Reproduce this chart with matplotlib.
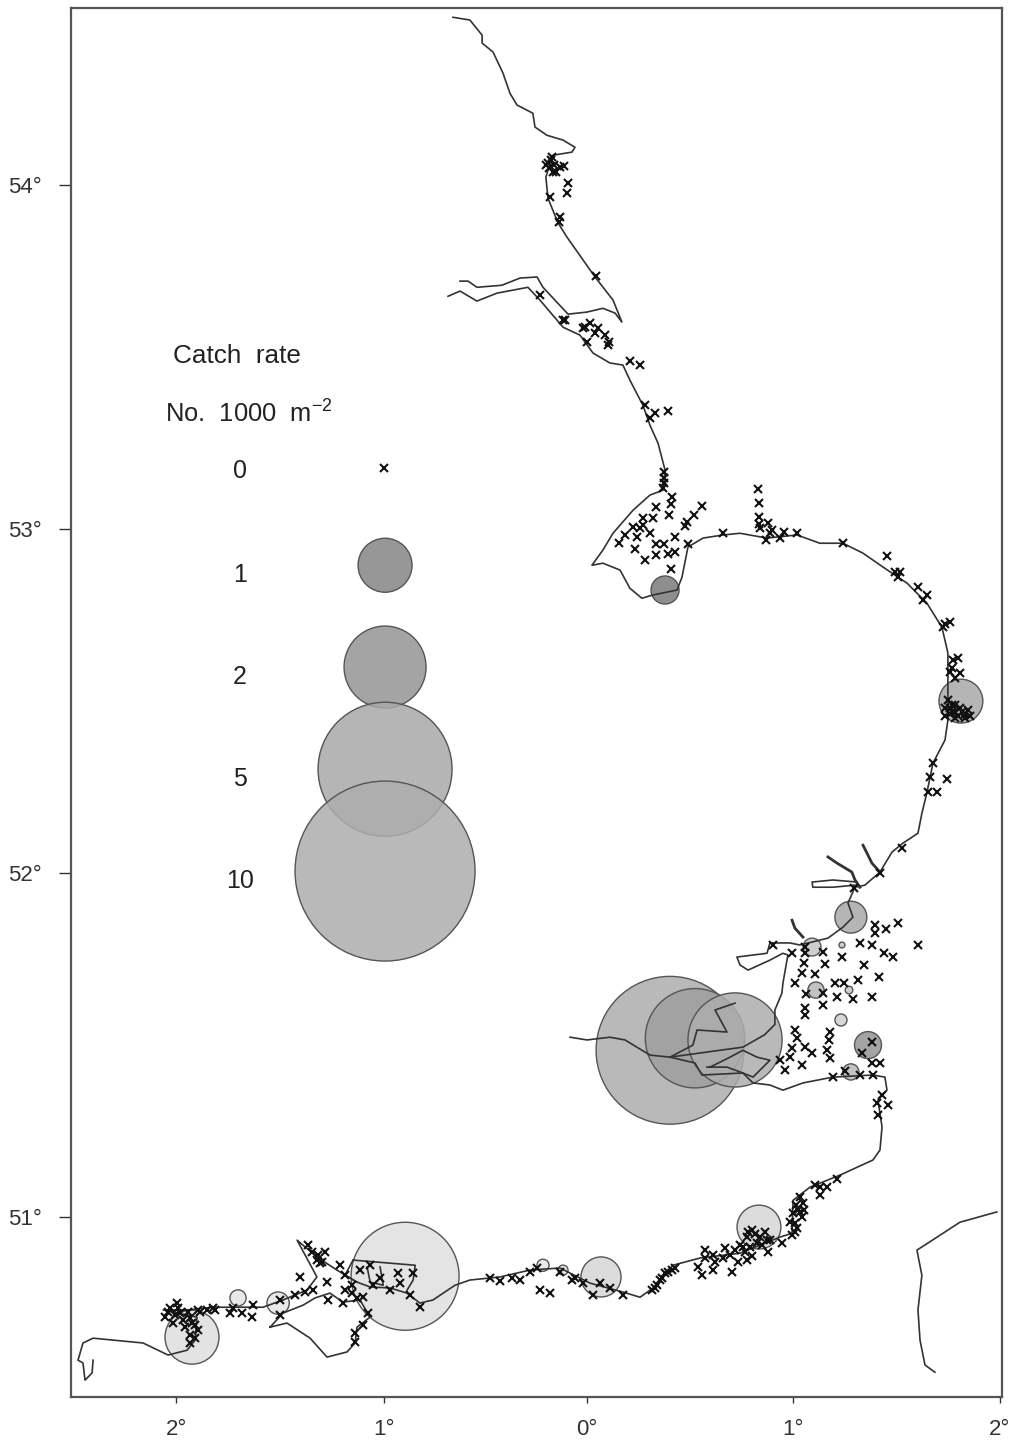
import numpy as np
import matplotlib
matplotlib.use('Agg')
import matplotlib.pyplot as plt

plt.rcParams['font.family'] = ['Liberation Sans', 'DejaVu Sans']
plt.rcParams['mathtext.default'] = 'regular'

# coast, (lon, lat) in degrees, west is negative
coast_north = [(-.649,54.488),(-.567,54.480),(-.508,54.436),(-.508,54.413),(-.455,54.387),(-.407,54.326),
    (-.373,54.267),(-.339,54.233),(-.262,54.209),(-.252,54.169),(-.194,54.145),(-.116,54.131),(-.058,54.110),
    (-.073,54.096),(-.165,54.087),(-.179,54.064),(-.199,54.023),(-.189,53.962),(-.140,53.890),(-.097,53.849),
    (.039,53.733),(.126,53.666),(.169,53.602),(.136,53.628),(.077,53.642),(0,53.631),(-.092,53.625),
    (-.213,53.703),(-.242,53.733),(-.324,53.730),(-.412,53.709),(-.533,53.703),(-.576,53.721),(-.615,53.721)]
coast_east = [(-.673,53.677),(-.615,53.692),(-.533,53.663),(-.436,53.686),(-.286,53.703),(-.228,53.666),
    (-.116,53.587),(-.034,53.564),(.029,53.512),(.111,53.483),(.174,53.477),(.208,53.433),(.271,53.360),
    (.305,53.302),(.344,53.250),(.378,53.172),(.368,53.113),(.305,53.099),(.223,53.055),(.126,52.988),
    (.077,52.939),(.024,52.895),(.077,52.901),(.160,52.881),(.208,52.828),(.266,52.799),(.315,52.808),
    (.436,52.823),(.460,52.860),(.489,52.948),(.562,52.974),(.659,52.983),(.741,52.988),(.872,52.974),
    (1.017,52.983),(1.128,52.959),(1.240,52.959),(1.337,52.930),(1.433,52.890),(1.550,52.843),(1.646,52.785),
    (1.719,52.715),(1.748,52.640),(1.748,52.561),(1.748,52.445),(1.734,52.387),(1.676,52.320),(1.646,52.233),
    (1.622,52.174),(1.603,52.116),(1.530,52.087),(1.477,52.061),(1.419,52.003),(1.346,51.965),(1.298,51.959),
    (1.264,51.913),(1.288,51.872),(1.240,51.843),(1.167,51.811),(1.031,51.791),(.983,51.797),(.886,51.797),
    (.872,51.767),(.726,51.756),(.741,51.733),(.780,51.718),(.886,51.747),(.949,51.767),(.973,51.762),
    (.949,51.680),(.944,51.651),(.910,51.602),(.910,51.560),(.860,51.530),(.755,51.494),(.644,51.485),(.402,51.465),
    (.305,51.471),(.184,51.515),(.111,51.523),(0,51.515),(-.082,51.523)]
coast_south = [(.402,51.465),(.523,51.448),(.557,51.413),(.755,51.419),(.804,51.390),(.886,51.384),(.949,51.369),
    (1.046,51.390),(1.191,51.407),(1.385,51.413),(1.443,51.407),(1.453,51.369),(1.409,51.340),(1.429,51.262),
    (1.419,51.195),(1.385,51.166),(1.225,51.122),(1.080,51.087),(.998,51.049),(.993,50.953),(.935,50.942),
    (.741,50.895),(.547,50.881),(.416,50.860),(.320,50.794),(.257,50.767),(.174,50.782),(.015,50.808),
    (-.131,50.852),(-.276,50.846),(-.421,50.826),(-.567,50.817),(-.639,50.802),(-.746,50.759),(-.809,50.750),
    (-.872,50.779),(-.954,50.794),(-1.051,50.797),(-1.114,50.811),(-1.211,50.846),(-1.308,50.884),(-1.404,50.933),
    (-1.308,50.826),(-1.356,50.788),(-1.472,50.759),(-1.569,50.738),(-1.695,50.738),(-1.811,50.738),(-1.937,50.730),
    (-2.053,50.730),(-1.889,50.709),(-1.898,50.642),(-1.937,50.613),(-2.029,50.599),(-2.150,50.634),(-2.392,50.648),
    (-2.441,50.634),(-2.465,50.584),(-2.441,50.576),(-2.431,50.526),(-2.397,50.547),(-2.392,50.584)]
isle_of_wight = [(-1.535,50.680),(-1.453,50.692),(-1.341,50.648),(-1.259,50.593),(-1.162,50.608),(-1.123,50.634),
    (-1.114,50.680),(-1.051,50.709),(-1.099,50.759),(-1.182,50.753),(-1.245,50.779),(-1.317,50.765),(-1.375,50.744),
    (-1.472,50.721),(-1.535,50.680)]
deben = [(1.337,52.081),(1.380,52.029),(1.419,52.003)]
orwell = [(1.167,52.047),(1.211,52.029),(1.283,52.003),(1.298,51.980),(1.322,51.959)]
stour = [(1.308,51.974),(1.191,51.980),(1.090,51.974),(1.094,51.959),(1.191,51.959),(1.298,51.965)]
colne = [(.993,51.863),(1.007,51.840),(1.046,51.814)]
medway = [(.581,51.436),(.678,51.436),(.755,51.419),(.804,51.407),(.886,51.456),(.823,51.465),(.755,51.485),(.693,51.465),(.596,51.436)]
thames_creek = [(.402,51.465),(.513,51.500),(.533,51.544),(.678,51.538),(.620,51.602),(.717,51.622)]
harbour_a = [(-1.133,50.875),(-.832,50.860),(-.842,50.817),(-.871,50.788)]
harbour_b = [(-1.065,50.855),(-1.050,50.811),(-.987,50.802),(-1.002,50.855)]
harbour_c = [(-1.133,50.875),(-1.172,50.831),(-1.114,50.811)]
france = [(1.985,51.015),(1.806,50.985),(1.637,50.919),(1.598,50.904),(1.622,50.831),(1.603,50.730),(1.613,50.642),
    (1.637,50.570),(1.685,50.549)]

# stations with no catch
zero_north = [(-.189,54.064),(-.174,54.073),(-.160,54.058),(-.184,54.049),(-.150,54.038),(-.169,54.081),(-.131,54.052),
    (-.111,54.055),(-.198,54.058),(-.165,54.038),(-.092,54.006),(-.097,53.977),(-.179,53.965),(-.136,53.892),(-.131,53.907),
    (.044,53.735),(-.227,53.680),(-.106,53.608),(-.116,53.608),(.015,53.599),(.053,53.584),(.087,53.564),(.039,53.570),
    (.106,53.544),(.102,53.535),(-.019,53.584),(-.010,53.587),(0,53.544),(.257,53.477),(.208,53.488),(.281,53.360),
    (.329,53.337),(.305,53.323),(.392,53.343)]
zero_wash = [(.373,53.166),(.373,53.148),(.373,53.134),(.368,53.119),(.411,53.093),(.407,53.073),(.397,53.041),(.557,53.067),
    (.518,53.041),(.484,53.020),(.474,53.009),(.426,52.977),(.334,53.064),(.319,53.032),(.271,53.032),(.271,53.012),
    (.223,53.006),(.257,53.003),(.305,52.988),(.242,52.977),(.184,52.983),(.155,52.959),(.232,52.942),(.334,52.956),
    (.373,52.956),(.489,52.956),(.281,52.910),(.334,52.924),(.392,52.927),(.426,52.933),(.407,52.884)]
zero_norfolk = [(.659,52.988),(.828,53.116),(.833,53.076),(.833,53.035),(.833,53.015),(.876,53.017),(.838,53.003),(.896,52.997),
    (.886,52.988),(.867,52.968),(.935,52.974),(.954,52.991),(1.017,52.988),(1.240,52.959),(1.453,52.921),(1.492,52.875),
    (1.516,52.875),(1.506,52.860),(1.603,52.831),(1.646,52.808),(1.627,52.794),(1.734,52.724),(1.758,52.730),(1.724,52.715),
    (1.772,52.619),(1.797,52.625),(1.768,52.596),(1.806,52.581),(1.782,52.567),(1.758,52.584),
    (1.748,52.503),(1.768,52.488),(1.782,52.468),(1.806,52.480),(1.831,52.462),(1.758,52.462),(1.797,52.456),(1.845,52.474),
    (1.734,52.480),(1.816,52.468),(1.782,52.488),(1.758,52.480),(1.734,52.456),(1.782,52.451),(1.831,52.451),(1.854,52.456),
    (1.768,52.468),(1.676,52.320),(1.661,52.279),(1.743,52.273),(1.651,52.235),(1.695,52.235),(1.525,52.073),
    (1.419,52.000),(1.293,51.956)]
zero_thames = [(1.395,51.849),(1.395,51.826),(1.448,51.837),(1.506,51.855),(1.603,51.791),(1.322,51.797),(1.380,51.791),(1.438,51.767),
    (1.482,51.756),(1.235,51.756),(1.341,51.733),(1.414,51.698),(1.312,51.689),(1.245,51.680),(1.201,51.680),(1.380,51.640),
    (1.288,51.634),(1.211,51.640),(1.143,51.616),(1.143,51.651),(1.061,51.648),(1.056,51.608),(1.056,51.587),(1.007,51.680),
    (1.104,51.706),(1.041,51.709),(1.051,51.738),(1.152,51.735),(1.143,51.770),(1.056,51.785),(1.056,51.767),(.993,51.767),
    (.901,51.791),(1.007,51.544),(1.017,51.520),(.993,51.491),(.983,51.465),(1.056,51.494),(1.090,51.477),(1.041,51.442),
    (.935,51.456),(.959,51.427),(1.177,51.538),(1.172,51.515),(1.162,51.485),(1.177,51.462),(1.191,51.407),(1.249,51.424),
    (1.380,51.509),(1.332,51.477),(1.380,51.448),(1.419,51.448),(1.385,51.413),(1.322,51.413)]
zero_kent = [(1.429,51.355),(1.458,51.326),(1.404,51.331),(1.409,51.297),(1.211,51.110),(1.162,51.087),(1.128,51.087),(1.104,51.093),
    (1.128,51.064),(1.031,51.058),(1.046,51.041),(1.022,51.020),(.998,51.012),(1.041,51.000),(1.007,50.983),(1.007,50.956),
    (.944,50.924),(.872,50.933),(.877,50.898),(.823,50.924),(.775,50.942),(.799,50.962),(.755,50.913),(.717,50.904),
    (.775,50.875),(.702,50.840),(.659,50.881),(.610,50.846),(.610,50.889),(.571,50.881),(.557,50.831),(.538,50.855),
    (.789,50.913),(.838,50.942),(.426,50.852),(.378,50.837),(.354,50.817),(.329,50.794),(.174,50.773),(.111,50.794),
    (.063,50.808),(.029,50.773),(-.019,50.808),(-.073,50.817),
    (1.012,51.035),(1.031,51.015),(.983,50.985),(1.017,50.968),(.993,50.948),(1.051,51.020),
    (.339,50.802),(.363,50.823),(.392,50.840),(.315,50.788),(.411,50.846),
    (.571,50.904),(.620,50.869),(.668,50.910),(.692,50.889),(.741,50.919),(.765,50.898),(.813,50.951),(.847,50.919),
    (.886,50.933),(.731,50.869),(.799,50.887),(.862,50.956),(.779,50.956)]
zero_solent = [(-.470,50.823),(-.421,50.814),(-.363,50.823),(-.324,50.817),(-.276,50.840),(-.242,50.852),(-.228,50.788),(-.179,50.779),
    (-.131,50.840),(-.058,50.823),
    (-.809,50.738),(-.857,50.773),(-.915,50.837),(-.954,50.788),(-1.036,50.802),(-1.085,50.767),(-1.138,50.802),(-1.172,50.831),
    (-1.259,50.811),(-1.269,50.898),(-1.308,50.875),(-1.351,50.919),(-1.390,50.826),(-1.327,50.788),(-1.366,50.782),(-1.414,50.773),
    (-1.487,50.759),(-1.487,50.715),(-1.254,50.759),(-1.182,50.750),(-1.114,50.764),(-1.061,50.721),(-1.085,50.686),(-1.123,50.663),
    (-1.123,50.637),(-.843,50.837),(-1.051,50.860),
    (-1.138,50.779),(-1.172,50.788),(-.905,50.808),(-1.002,50.823),(-1.099,50.846),(-1.196,50.860),(-1.293,50.866),(-1.331,50.898),
    (-1.302,50.890),(-1.283,50.869)]
zero_west = [(-1.617,50.744),(-1.622,50.709),(-1.671,50.721),(-1.714,50.735),(-1.729,50.721),(-1.811,50.735),(-1.840,50.730),(-1.884,50.730),
    (-1.932,50.724),(-1.971,50.721),(-2.019,50.735),(-2.044,50.709),(-1.985,50.750),(-1.913,50.692),(-1.884,50.672),(-1.898,50.648),
    (-1.922,50.634),(-1.947,50.680),(-2.005,50.692),
    (-1.994,50.715),(-1.955,50.700),(-1.922,50.706),(-1.898,50.686),(-1.922,50.657),(-1.873,50.724),(-1.800,50.730),(-2.029,50.724),(-1.980,50.735)]
zero_legend = [(-.983,53.177)]

# stations with a catch
catch_lon = [.402,.523,.717,.378,1.811,1.278,1.361,1.278,1.109,1.230,1.269,1.090,1.235,-.881,-1.913,.068,.833,-1.690,-1.496,-.213,-.116]
catch_lat = [51.485,51.520,51.515,52.823,52.500,51.872,51.500,51.422,51.660,51.573,51.660,51.785,51.791,50.828,50.651,50.826,50.971,50.765,50.750,50.860,50.846]
catch_rate = [6.5,3.0,2.7,.27,.66,.35,.25,.09,.09,.05,.02,.11,.012,3.5,1,.55,.66,.09,.17,.05,.034]
catch_grey = [.68,.62,.68,.48,.66,.66,.58,.72,.72,.82,.78,.78,.78,.88,.87,.84,.84,.9,.9,.9,.9]

# legend
legend_rates = [1, 2, 5, 10]
legend_radius_px = [27, 41, 67, 90]
legend_grey = [.52, .58, .66, .68]
legend_lon = -.978
legend_lat = [52.895, 52.599, 52.302, 52.006]
label_lat = [53.168, 52.866, 52.570, 52.273, 51.977]
labels = ['0', '1', '2', '5', '10']

lon_ticks = [-1.99, -.985, 0, 1, 2]
lon_labels = ['2°', '1°', '0°', '1°', '2°']
lat_ticks = [51, 52, 53, 54]
lat_labels = ['51°', '52°', '53°', '54°']


def circle_size(rate):
    # radius in px from the legend sizes, area in points^2 for scatter
    rate = np.asarray(rate, dtype=float)
    r = np.where(rate < 1, 27 * np.sqrt(rate), np.interp(rate, legend_rates, legend_radius_px))
    return (2 * r * 0.72) ** 2


def draw_line(ax, pts, lw=1.2):
    pts = np.array(pts)
    ax.plot(pts[:, 0], pts[:, 1], color='#333333', lw=lw, zorder=3, solid_joinstyle='round')


def draw_circles(ax, lon, lat, rate, grey):
    fc = [(g, g, g, 0.85) for g in grey]
    ax.scatter(lon, lat, s=circle_size(rate), facecolors=fc, edgecolors='#555555', linewidths=1.0, zorder=2)


fig = plt.figure(figsize=(10.11, 14.43), dpi=100)
ax = fig.add_axes([71 / 1011, 46 / 1443, 931 / 1011, 1389 / 1443])
ax.set_xlim(-2.499, 2.010)
ax.set_ylim(50.477, 54.515)

draw_circles(ax, catch_lon, catch_lat, catch_rate, catch_grey)
draw_circles(ax, [legend_lon] * 4, legend_lat, legend_rates, legend_grey)

for line in [coast_north, coast_east, coast_south, isle_of_wight, stour, france, medway, thames_creek,
             harbour_a, harbour_b, harbour_c]:
    draw_line(ax, line)
for line in [deben, orwell, colne]:
    draw_line(ax, line, lw=2)

for group in [zero_north, zero_wash, zero_norfolk, zero_thames, zero_kent, zero_solent, zero_west, zero_legend]:
    pts = np.array(group)
    ax.plot(pts[:, 0], pts[:, 1], 'x', color='#111111', ms=5.5, mew=1.5, zorder=4)

ax.text(-2.005, 53.503, 'Catch  rate', fontsize=18.8, va='center', color='#222222')
ax.text(-2.044, 53.334, 'No.  1000  m$^{-2}$', fontsize=18.4, va='center', color='#222222')
for lat, lab in zip(label_lat, labels):
    ax.text(-1.68, lat, lab, fontsize=18, ha='center', va='center', color='#222222')

ax.set_xticks(lon_ticks)
ax.set_xticklabels(lon_labels)
ax.set_yticks(lat_ticks)
ax.set_yticklabels(lat_labels)
ax.tick_params(axis='x', length=4, width=1, pad=12, labelsize=16, colors='#333333', direction='out')
ax.tick_params(axis='y', length=9, width=1, pad=12, labelsize=16, colors='#333333', direction='out')
for s in ax.spines.values():
    s.set_linewidth(1.6)
    s.set_color('#555555')

fig.savefig('out.png', dpi=100)
